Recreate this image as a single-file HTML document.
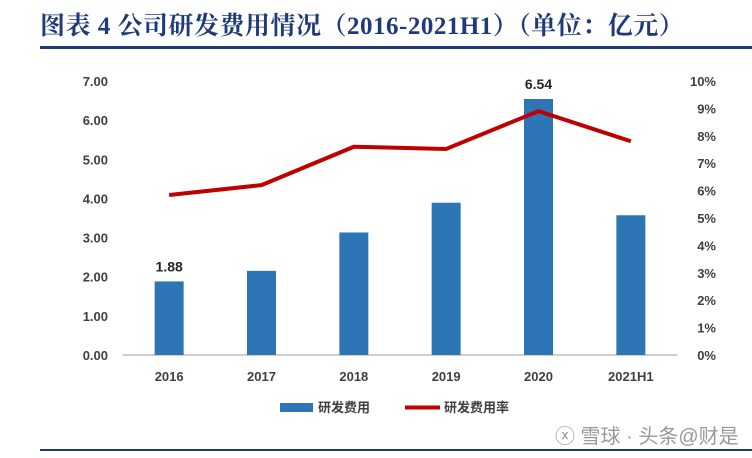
<!DOCTYPE html>
<html><head><meta charset="utf-8"><style>
body{margin:0;background:#fff;width:752px;height:458px;overflow:hidden;position:relative;font-family:"Liberation Sans","Noto Sans CJK SC",sans-serif}
#title{position:absolute;left:40px;top:6px;font-family:"Liberation Serif","Noto Serif CJK SC",serif;font-weight:bold;font-size:25px;color:#1f3a7a;white-space:nowrap;letter-spacing:0.5px}
.rule{position:absolute;left:40px;width:712px;background:#1f3a7a}
#wm{position:absolute;left:555px;top:420px;font-size:20px;color:#999;white-space:nowrap}
</style></head><body>
<div id="title">图表 4 公司研发费用情况（2016-2021H1）（单位：亿元）</div>
<div class="rule" style="top:46px;height:3px"></div>
<div class="rule" style="top:449px;height:2px"></div>
<svg id="chart" width="752" height="458" style="position:absolute;left:0;top:0"></svg>
<div id="wm">ⓧ 雪球 · 头条@财是</div>
<script>
const categories=["2016","2017","2018","2019","2020","2021H1"];
const expense=[1.88,2.15,3.13,3.89,6.54,3.57];
const rate=[5.84,6.2,7.6,7.52,8.9,7.8];
const leftTicks=[0,1,2,3,4,5,6,7];
const rightTicks=[0,1,2,3,4,5,6,7,8,9,10];
const labeled=[0,4];
const NS="http://www.w3.org/2000/svg";
const svg=document.getElementById('chart');
const x0=123,x1=677,yb=355,yt=81;
const yL=v=>yb-(v/7)*(yb-yt);
const yR=v=>yb-(v/10)*(yb-yt);
const step=(x1-x0)/categories.length;
const xc=i=>x0+step*(i+0.5);
function mk(t,a){const e=document.createElementNS(NS,t);for(const k in a)e.setAttribute(k,a[k]);svg.appendChild(e);return e;}
leftTicks.forEach(v=>{const t=mk('text',{x:108,y:yL(v)+5,'text-anchor':'end','font-size':13,'font-weight':'bold',fill:'#404040'});t.textContent=v.toFixed(2);

});
rightTicks.forEach(v=>{const t=mk('text',{x:716,y:yR(v)+5,'text-anchor':'end','font-size':13,'font-weight':'bold',fill:'#404040'});t.textContent=v+'%';

});
const ax=mk('line',{x1:x0,x2:x1,y1:yb,y2:yb,stroke:'#bfbfbf','stroke-width':1.5});


categories.forEach((c,i)=>{
const r=mk('rect',{x:xc(i)-14.5,y:yL(expense[i]),width:29,height:yb-yL(expense[i]),fill:'#2e75b6'});


const t=mk('text',{x:xc(i),y:yb+26,'text-anchor':'middle','font-size':13,'font-weight':'bold',fill:'#404040'});t.textContent=c;


if(labeled.includes(i)){const l=mk('text',{x:xc(i),y:yL(expense[i])-10,'text-anchor':'middle','font-size':14,'font-weight':'bold',fill:'#262626'});l.textContent=expense[i].toFixed(2);

}
});
const pl=mk('polyline',{points:rate.map((v,i)=>xc(i)+','+yR(v)).join(' '),fill:'none',stroke:'#c00000','stroke-width':4,'stroke-linejoin':'round'});


const lb=mk('rect',{x:280,y:403,width:33,height:9,fill:'#2e75b6'});


const lt1=mk('text',{x:318,y:412,'font-size':13,'font-weight':'bold',fill:'#404040'});lt1.textContent='研发费用';


const ll=mk('line',{x1:405,x2:440,y1:407.5,y2:407.5,stroke:'#c00000','stroke-width':4});


const lt2=mk('text',{x:444,y:412,'font-size':13,'font-weight':'bold',fill:'#404040'});lt2.textContent='研发费用率';


</script>
</body></html>
